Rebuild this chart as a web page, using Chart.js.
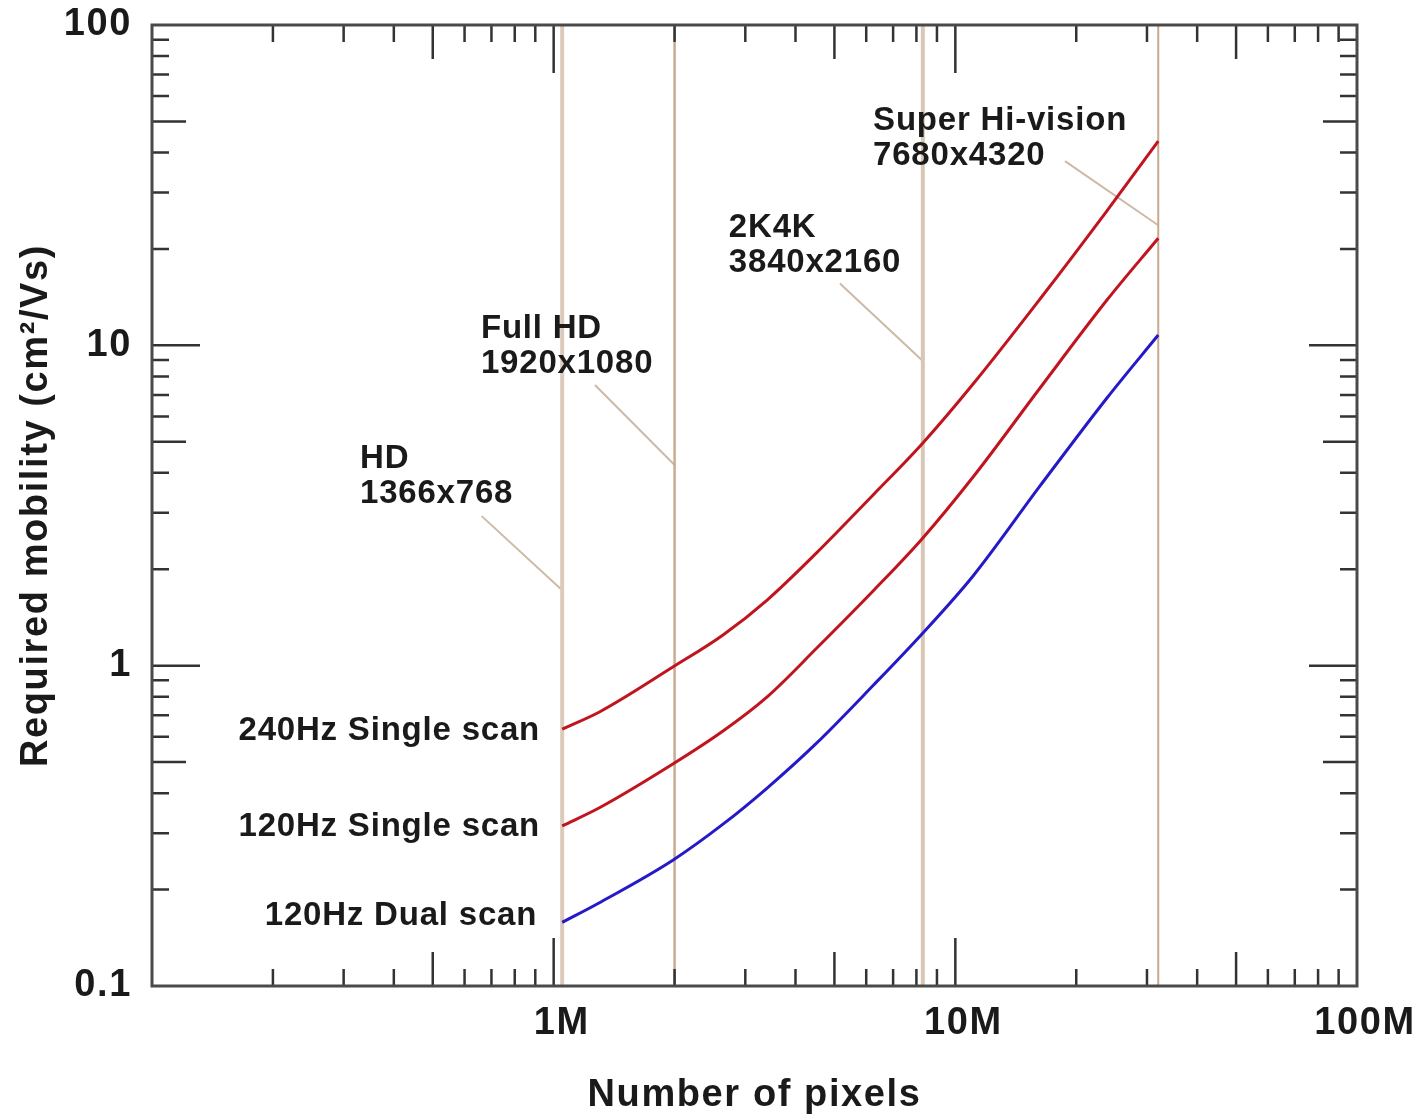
<!DOCTYPE html>
<html><head><meta charset="utf-8">
<script src="https://cdn.jsdelivr.net/npm/chart.js@4.4.1/dist/chart.umd.min.js"></script>
<style>html,body{margin:0;padding:0;background:#fff;} canvas{display:block;}</style>
</head><body>
<canvas id="c" width="1422" height="1116"></canvas>
<script>
// ---- data ----
const pixelCountsM = [1.05, 1.30, 1.98, 2.64, 3.40, 4.52, 6.24, 8.26, 11.07, 16.25, 23.85, 32];
const mobility240Single = [0.634, 0.717, 0.99, 1.247, 1.603, 2.254, 3.41, 4.92, 7.57, 13.95, 26.3, 43.4];
const mobility120Single = [0.316, 0.360, 0.493, 0.625, 0.799, 1.135, 1.71, 2.486, 3.88, 7.36, 13.85, 21.6];
const mobility120Dual = [0.158, 0.182, 0.247, 0.320, 0.415, 0.574, 0.867, 1.256, 1.906, 3.64, 6.85, 10.77];
const seriesNames = ['240Hz Single scan', '120Hz Single scan', '120Hz Dual scan'];
const resolutionPixelsM = [1.05, 2.0, 8.3, 32];
const resolutionNames = ['HD', 'Full HD', '2K4K', 'Super Hi-vision'];
const resolutionSizes = ['1366x768', '1920x1080', '3840x2160', '7680x4320'];
const xTickValues = [1e6, 1e7, 1e8];
const xTickLabels = ['1M', '10M', '100M'];
const yTickValues = [0.1, 1, 10, 100];
const yTickLabels = ['0.1', '1', '10', '100'];
const xMin = 1e5, xMax = 1e8, yMin = 0.1, yMax = 100;

// ---- styles / layout ----
const curveColors = ['#c0141f', '#c0141f', '#2519c8'];
const vlineStyles = [{c:'#dccbbd', w:4}, {c:'#c8ab92', w:2.5}, {c:'#d9c6b5', w:4}, {c:'#c8a98f', w:2}];
const TEXT = '#1a1a1a';
const FONT = '"Liberation Sans", Arial, Helvetica, sans-serif';
const annot = {
  font: 'bold 33px ' + FONT,
  lineGap: 35,
  resAnchors: [{x:3.295e5, y:4.14}, {x:6.59e5, y:10.54}, {x:2.73e6, y:21.8}, {x:6.24e6, y:47.0}],
  leaderStarts: [{x:6.62e5, y:2.93}, {x:1.267e6, y:7.52}, {x:5.16e6, y:15.6}, {x:1.875e7, y:37.6}],
  leaderEnds: [1.72, 4.23, 8.93, 23.7],
  seriesAnchors: [{x:9.25e5, y:0.586}, {x:9.25e5, y:0.294}, {x:9.1e5, y:0.155}]
};

const seriesData = [mobility240Single, mobility120Single, mobility120Dual];
const datasets = seriesData.map((arr, i) => ({
  label: seriesNames[i],
  data: arr.map((v, j) => ({x: pixelCountsM[j] * 1e6, y: v})),
  borderColor: curveColors[i], borderWidth: 3, pointRadius: 0,
  cubicInterpolationMode: 'monotone', fill: false, order: 1
}));
resolutionPixelsM.forEach((m, i) => datasets.push({
  label: resolutionNames[i],
  data: [{x: m * 1e6, y: yMin}, {x: m * 1e6, y: yMax}],
  borderColor: vlineStyles[i].c, borderWidth: vlineStyles[i].w, pointRadius: 0, fill: false, order: 2
}));

const textSpacing = {
  id: 'textSpacing',
  beforeDraw(chart) { chart.ctx.letterSpacing = '1.6px'; }
};

const leaders = {
  id: 'leaders',
  beforeDatasetsDraw(chart) {
    const {ctx, scales: {x, y}} = chart;
    ctx.save();
    ctx.strokeStyle = '#cdb9a6';
    ctx.lineWidth = 2;
    annot.leaderStarts.forEach((s, i) => {
      ctx.beginPath();
      ctx.moveTo(x.getPixelForValue(s.x), y.getPixelForValue(s.y));
      ctx.lineTo(x.getPixelForValue(resolutionPixelsM[i] * 1e6), y.getPixelForValue(annot.leaderEnds[i]));
      ctx.stroke();
    });
    ctx.restore();
  }
};

const frameTicks = {
  id: 'frameTicks',
  afterDatasetsDraw(chart) {
    const {ctx, chartArea: a, scales: {x, y}} = chart;
    ctx.save();
    ctx.strokeStyle = '#333';
    ctx.lineWidth = 2.5;
    const len = m => m === 1 ? 48 : (m === 5 ? 34 : 17);
    for (let d = 5; d < 8; d++) for (let m = 1; m <= 9; m++) {
      const v = m * Math.pow(10, d);
      if (v <= xMin * 1.0001 || v >= xMax * 0.9999) continue;
      const px = x.getPixelForValue(v), L = len(m);
      ctx.beginPath();
      ctx.moveTo(px, a.bottom); ctx.lineTo(px, a.bottom - L);
      ctx.moveTo(px, a.top); ctx.lineTo(px, a.top + L);
      ctx.stroke();
    }
    for (let d = -1; d < 2; d++) for (let m = 1; m <= 9; m++) {
      const v = m * Math.pow(10, d);
      if (v <= yMin * 1.0001 || v >= yMax * 0.9999) continue;
      const py = y.getPixelForValue(v), L = len(m);
      ctx.beginPath();
      ctx.moveTo(a.left, py); ctx.lineTo(a.left + L, py);
      ctx.moveTo(a.right, py); ctx.lineTo(a.right - L, py);
      ctx.stroke();
    }
    ctx.strokeStyle = '#4a4a4a';
    ctx.lineWidth = 3;
    ctx.strokeRect(a.left, a.top, a.right - a.left, a.bottom - a.top);

    // annotations
    ctx.font = annot.font;
    ctx.fillStyle = TEXT;
    ctx.letterSpacing = '0.8px';
    ctx.textBaseline = 'alphabetic';
    ctx.textAlign = 'left';
    annot.resAnchors.forEach((p, i) => {
      const px = x.getPixelForValue(p.x), py = y.getPixelForValue(p.y);
      ctx.fillText(resolutionNames[i], px, py);
      ctx.fillText(resolutionSizes[i], px, py + annot.lineGap);
    });
    ctx.textAlign = 'right';
    annot.seriesAnchors.forEach((p, i) => {
      ctx.fillText(seriesNames[i], x.getPixelForValue(p.x), y.getPixelForValue(p.y));
    });
    ctx.restore();
  }
};

new Chart(document.getElementById('c'), {
  type: 'line',
  data: { datasets },
  options: {
    responsive: false,
    animation: false,
    events: [],
    layout: { autoPadding: false, padding: { left: 0, right: 65, top: 25, bottom: 0 } },
    plugins: { legend: { display: false }, tooltip: { enabled: false } },
    scales: {
      x: {
        type: 'logarithmic', position: 'bottom', min: xMin, max: xMax,
        grid: { display: false, drawTicks: false },
        border: { display: false },
        afterBuildTicks: s => { s.ticks = xTickValues.map(v => ({ value: v })); },
        afterFit: s => { s.height = 130; s.paddingLeft = 0; s.paddingRight = 0; s.paddingTop = 0; s.paddingBottom = 0; },
        ticks: {
          autoSkip: false, maxRotation: 0, padding: 15, labelOffset: 8,
          color: TEXT, font: { family: FONT, size: 38, weight: 'bold' },
          callback: (v) => { const i = xTickValues.indexOf(v); return i >= 0 ? xTickLabels[i] : ''; }
        },
        title: {
          display: true, text: 'Number of pixels', color: TEXT,
          font: { family: FONT, size: 38, weight: 'bold', lineHeight: 1.0 }, padding: { top: 0, bottom: 1 }
        }
      },
      y: {
        type: 'logarithmic', position: 'left', min: yMin, max: yMax,
        grid: { display: false, drawTicks: false },
        border: { display: false },
        afterBuildTicks: s => { s.ticks = yTickValues.map(v => ({ value: v })); },
        afterFit: s => { s.width = 152; s.paddingLeft = 0; s.paddingRight = 0; s.paddingTop = 0; s.paddingBottom = 0; },
        ticks: {
          autoSkip: false, padding: 20,
          color: TEXT, font: { family: FONT, size: 38, weight: 'bold' },
          callback: (v) => { const i = yTickValues.findIndex(t => Math.abs(t - v) < 1e-9); return i >= 0 ? yTickLabels[i] : ''; }
        },
        title: {
          display: true, text: 'Required mobility (cm²/Vs)', color: TEXT,
          font: { family: FONT, size: 38, weight: 'bold' }, padding: { top: 14, bottom: 0 }
        }
      }
    }
  },
  plugins: [textSpacing, leaders, frameTicks]
});
</script>
</body></html>
